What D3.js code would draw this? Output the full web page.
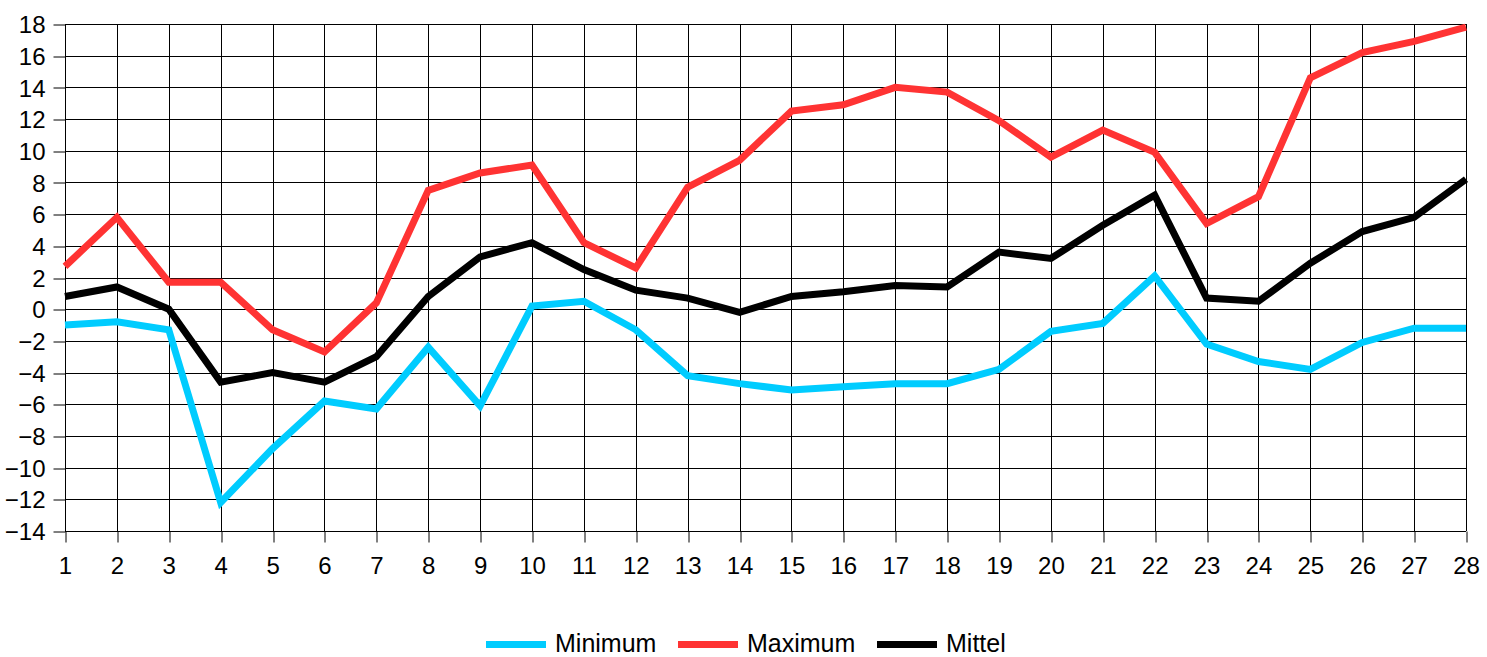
<!DOCTYPE html>
<html><head><meta charset="utf-8">
<script src="https://cdn.jsdelivr.net/npm/d3@7"></script>
<style>body{margin:0;background:#fff}svg{display:block}text{font-family:"Liberation Sans",Arial,sans-serif}</style>
</head><body><svg id="c" width="1487" height="657"></svg>
<script>
const days = d3.range(1, 29);
const yTicks = [-14,-12,-10,-8,-6,-4,-2,0,2,4,6,8,10,12,14,16,18];
const minimum = [-1.0,-0.8,-1.3,-12.2,-8.8,-5.8,-6.3,-2.4,-6.1,0.2,0.5,-1.3,-4.2,-4.7,-5.1,-4.9,-4.7,-4.7,-3.8,-1.4,-0.9,2.1,-2.2,-3.3,-3.8,-2.1,-1.2,-1.2];
const maximum = [2.7,5.8,1.7,1.7,-1.3,-2.7,0.4,7.5,8.6,9.1,4.2,2.6,7.7,9.4,12.5,12.9,14.0,13.7,11.9,9.6,11.3,9.9,5.4,7.1,14.6,16.2,16.9,17.8];
const mittel = [0.8,1.4,0.0,-4.6,-4.0,-4.6,-3.0,0.8,3.3,4.2,2.5,1.2,0.7,-0.2,0.8,1.1,1.5,1.4,3.6,3.2,5.3,7.2,0.7,0.5,2.9,4.9,5.8,8.2];
const seriesNames = ["Minimum","Maximum","Mittel"];
const seriesColors = ["#00ccff","#ff3333","#000000"];
const seriesData = [minimum, maximum, mittel];

const svg = d3.select("#c");
const L = 65, R = 1466, T = 24, B = 531;
const x = d3.scaleLinear().domain([1, 28]).range([L, R]);
const y = d3.scaleLinear().domain([-14, 18]).range([B, T]);
const FONT = '"Liberation Sans",Arial,sans-serif';

// grid
const g = svg.append("g");
g.selectAll("line.h").data(yTicks).join("line")
  .attr("x1", L).attr("x2", R).attr("y1", d => Math.round(y(d)) + 0.5).attr("y2", d => Math.round(y(d)) + 0.5)
  .attr("stroke", "#000").attr("stroke-width", 1);
g.selectAll("line.v").data(days).join("line")
  .attr("y1", T).attr("y2", B).attr("x1", d => Math.round(x(d)) + 0.5).attr("x2", d => Math.round(x(d)) + 0.5)
  .attr("stroke", "#000").attr("stroke-width", 1);

// axes
const ya = svg.append("g").attr("transform", `translate(${L + 0.5},0)`)
  .call(d3.axisLeft(y).tickValues(yTicks).tickSize(12).tickPadding(8).tickFormat(d3.format("d")));
const xa = svg.append("g").attr("transform", `translate(0,${Math.round(B) + 0.5})`)
  .call(d3.axisBottom(x).tickValues(days).tickSize(11).tickPadding(14).tickFormat(d3.format("d")));
[ya, xa].forEach(a => {
  a.select(".domain").remove();
  a.selectAll(".tick line").attr("stroke", "#000");
  a.selectAll("text").attr("font-size", 24).attr("fill", "#000").attr("font-family", FONT);
});
xa.selectAll(".tick line").attr("transform", d => `translate(${Math.round(x(d)) + 0.5 - x(d)},0)`);
ya.selectAll(".tick line").attr("transform", d => `translate(0,${Math.round(y(d)) + 0.5 - y(d)})`);
ya.selectAll("text").attr("dy", "0.36em");

// lines
const line = d3.line().x((d, i) => x(days[i])).y(d => y(d));
seriesData.forEach((s, k) => {
  svg.append("path").datum(s).attr("d", line).attr("fill", "none")
    .attr("stroke", seriesColors[k]).attr("stroke-width", 7).attr("stroke-linejoin", "miter");
});

// legend
const legX = [486, 678, 877];
const lg = svg.append("g");
seriesNames.forEach((n, k) => {
  lg.append("line").attr("x1", legX[k]).attr("x2", legX[k] + 60).attr("y1", 644.5).attr("y2", 644.5)
    .attr("stroke", seriesColors[k]).attr("stroke-width", 7);
  lg.append("text").attr("x", legX[k] + 69).attr("y", 651.5)
    .attr("font-size", 25).attr("fill", "#000").attr("font-family", FONT).text(n);
});
</script></body></html>
